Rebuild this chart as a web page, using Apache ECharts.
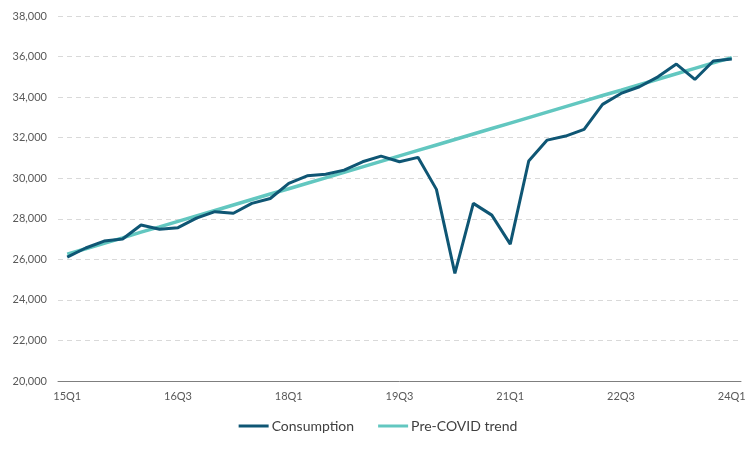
<!DOCTYPE html>
<html>
<head>
<meta charset="utf-8">
<script src="https://cdn.jsdelivr.net/npm/echarts@6/dist/echarts.min.js"></script>
<style>html,body{margin:0;padding:0;background:#fff}#c{width:756px;height:450px}</style>
</head>
<body>
<div id="c"></div>
<script>
const quarters = ["15Q1","15Q2","15Q3","15Q4","16Q1","16Q2","16Q3","16Q4","17Q1","17Q2","17Q3","17Q4",
  "18Q1","18Q2","18Q3","18Q4","19Q1","19Q2","19Q3","19Q4","20Q1","20Q2","20Q3","20Q4",
  "21Q1","21Q2","21Q3","21Q4","22Q1","22Q2","22Q3","22Q4","23Q1","23Q2","23Q3","23Q4","24Q1"];
const consumption = [26110,26560,26900,27000,27690,27480,27560,28030,28350,28270,28760,29000,
  29750,30120,30200,30400,30810,31090,30810,31030,29450,25310,28760,28180,
  26750,30850,31880,32080,32410,33640,34180,34510,35000,35630,34870,35780,35880];
const trend = [26260,26520,26790,27060,27340,27600,27870,28140,28410,28680,28950,29220,
  29480,29750,30020,30290,30560,30830,31100,31370,31640,31910,32180,32450,
  32720,32990,33260,33530,33800,34080,34340,34610,34880,35150,35420,35690,35950];
const yMin = 20000, yMax = 38000, yStep = 2000;

const chart = echarts.init(document.getElementById('c'));
const font = 'Lato, "Open Sans", sans-serif';
chart.setOption({
  animation: false,
  grid: {left: 58, right: 15, top: 16, bottom: 69, containLabel: false},
  legend: {
    bottom: 12, left: 'center', icon: 'rect', itemWidth: 30, itemHeight: 3, itemGap: 24,
    textStyle: {fontFamily: font, fontSize: 14, color: '#404040', padding: [0, 0, 0, -2]},
    data: ['Consumption', 'Pre-COVID trend']
  },
  xAxis: {
    type: 'category', data: quarters, boundaryGap: true,
    axisLine: {lineStyle: {color: '#7f7f7f', width: 1}},
    axisTick: {interval: 5, length: 5, lineStyle: {color: '#7f7f7f'}},
    axisLabel: {interval: 5, margin: 10, fontFamily: font, fontSize: 11, color: '#595959'},
    splitLine: {show: false}
  },
  yAxis: {
    type: 'value', min: yMin, max: yMax, interval: yStep,
    axisLine: {show: false}, axisTick: {show: false},
    axisLabel: {margin: 11, fontFamily: font, fontSize: 11, color: '#595959',
      formatter: v => v.toLocaleString('en-US')},
    splitLine: {lineStyle: {color: '#d9d9d9', type: [5, 4], width: 1}}
  },
  series: [
    {name: 'Pre-COVID trend', type: 'line', data: trend, symbol: 'none', z: 2,
     lineStyle: {color: '#62c7c0', width: 3.5}, itemStyle: {color: '#62c7c0'}},
    {name: 'Consumption', type: 'line', data: consumption, symbol: 'none', z: 3,
     lineStyle: {color: '#0f5674', width: 3}, itemStyle: {color: '#0f5674'}}
  ]
});
</script>
</body>
</html>
